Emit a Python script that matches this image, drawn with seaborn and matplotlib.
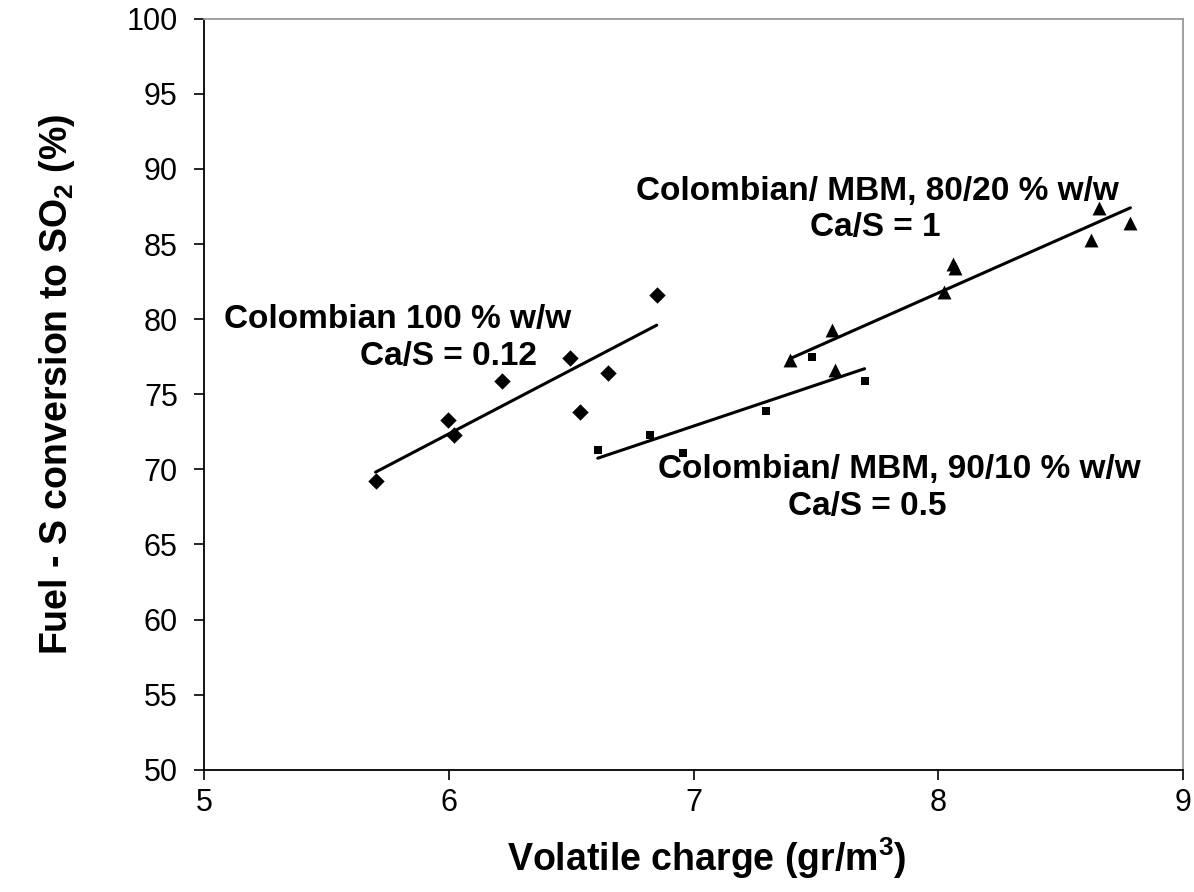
import numpy as np
import pandas as pd
import seaborn as sns
import matplotlib.pyplot as plt

# Colombian 100 % w/w, Ca/S = 0.12 (diamonds)
x_col100 = [5.70, 5.996, 6.02, 6.216, 6.494, 6.535, 6.649, 6.849]
y_col100 = [69.2, 73.3, 72.3, 75.9, 77.4, 73.8, 76.4, 81.6]

# Colombian/MBM 90/10 % w/w, Ca/S = 0.5 (squares)
x_mbm90 = [6.608, 6.82, 6.955, 7.294, 7.482, 7.698]
y_mbm90 = [71.3, 72.3, 71.1, 73.9, 77.5, 75.9]

# Colombian/MBM 80/20 % w/w, Ca/S = 1 (triangles)
x_mbm80 = [7.392, 7.567, 7.576, 8.024, 8.061, 8.069, 8.624, 8.657, 8.784]
y_mbm80 = [77.3, 79.3, 76.6, 81.8, 83.7, 83.4, 85.3, 87.4, 86.4]

sns.set_style('ticks')
plt.rcParams['font.family'] = ['Liberation Sans', 'DejaVu Sans']
plt.rcParams['text.color'] = 'black'
plt.rcParams['axes.labelcolor'] = 'black'
plt.rcParams['xtick.color'] = 'black'
plt.rcParams['ytick.color'] = 'black'
plt.rcParams['mathtext.fontset'] = 'custom'
plt.rcParams['mathtext.rm'] = 'Liberation Sans'
plt.rcParams['mathtext.bf'] = 'Liberation Sans:bold'

df1 = pd.DataFrame({'x': x_col100, 'y': y_col100})
df2 = pd.DataFrame({'x': x_mbm90, 'y': y_mbm90})
df3 = pd.DataFrame({'x': x_mbm80, 'y': y_mbm80})

fig = plt.figure(figsize=(11.94, 8.92), dpi=100)
ax = fig.add_axes([0.171, 0.137, 0.820, 0.842])

line_kws = {'color': 'black', 'linewidth': 2.2}
sns.regplot(data=df1, x='x', y='y', ax=ax, ci=None, truncate=True, marker='D',
            scatter_kws={'color': 'black', 's': 70, 'linewidths': 0, 'alpha': 1}, line_kws=line_kws)
sns.regplot(data=df2, x='x', y='y', ax=ax, ci=None, truncate=True, marker='s',
            scatter_kws={'color': 'black', 's': 34, 'linewidths': 0, 'alpha': 1}, line_kws=line_kws)
sns.regplot(data=df3, x='x', y='y', ax=ax, ci=None, truncate=True, marker='^',
            scatter_kws={'color': 'black', 's': 100, 'linewidths': 0, 'alpha': 1}, line_kws=line_kws)

ax.set_xlim(5, 9)
ax.set_ylim(50, 100)
ax.set_xticks(np.arange(5, 10, 1))
ax.set_yticks(np.arange(50, 105, 5))
ax.tick_params(axis='both', labelsize=22, length=7, width=1.2, color='black', labelcolor='black')
ax.tick_params(axis='x', pad=6)
ax.tick_params(axis='y', pad=12)

for side in ['left', 'bottom']:
    ax.spines[side].set_color('black')
    ax.spines[side].set_linewidth(1.3)
for side in ['top', 'right']:
    ax.spines[side].set_visible(True)
    ax.spines[side].set_color('#999999')
    ax.spines[side].set_linewidth(1.3)

ax.set_xlabel('Volatile charge (gr/m$\\mathbf{^3}$)', fontsize=27, fontweight='bold')
ax.set_ylabel('Fuel - S conversion to SO$\\mathbf{_2}$ (%)', fontsize=27, fontweight='bold')
ax.xaxis.set_label_coords(0.513, -0.088)
ax.yaxis.set_label_coords(-0.130, 0.513)

txt = dict(fontsize=24, fontweight='bold', ha='center', va='center', color='black')
ax.text(5.79, 80.0, 'Colombian 100 % w/w', **txt)
ax.text(6.0, 77.5, 'Ca/S = 0.12', **txt)
ax.text(7.75, 88.5, 'Colombian/ MBM, 80/20 % w/w', **txt)
ax.text(7.74, 86.1, 'Ca/S = 1', **txt)
ax.text(7.84, 70.0, 'Colombian/ MBM, 90/10 % w/w', **txt)
ax.text(7.71, 67.5, 'Ca/S = 0.5', **txt)

fig.savefig('out.png', dpi=100)
